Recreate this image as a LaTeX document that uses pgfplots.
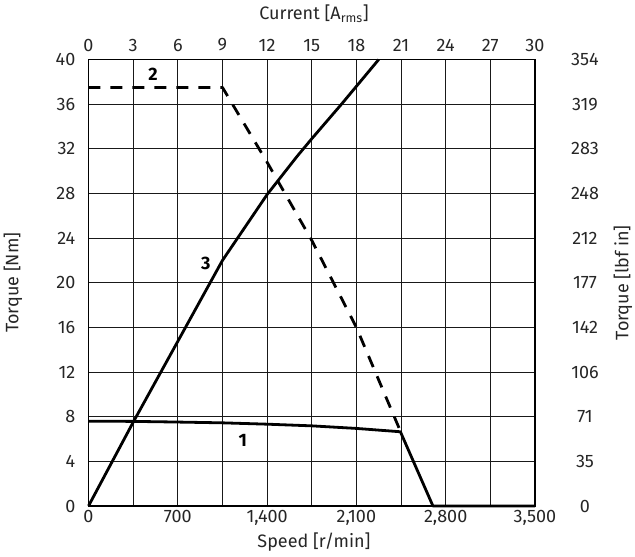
\documentclass[border=0pt]{standalone}
\usepackage{fontspec}
\setmainfont{Fira Sans}
\usepackage{pgfplots}
\pgfplotsset{compat=1.18}

\begin{document}
\fontsize{18}{21}\selectfont
\begin{tikzpicture}
\pgfplotsset{
  motor/.style={
    scale only axis, width=446.5pt, height=446.5pt,
    ymin=0, ymax=40, ytick={0,4,...,40},
    major tick length=0pt, minor tick length=0pt,
    tick label style={font=\fontsize{18}{21}\selectfont, text=black!85, inner sep=0pt},
    label style={font=\fontsize{18}{21}\selectfont, text=black!85},
    /pgf/number format/assume math mode=true,
    axis line style={line width=1.3pt},
    clip=false,
  },
  curve/.style={black, line width=2.8pt, line join=round},
}
\begin{axis}[motor, name=main,
  xmin=0, xmax=3500, xtick={0,700,1400,2100,2800,3500}, minor x tick num=1,
  scaled x ticks=false,
  grid=both,
  major grid style={black!90, line width=0.9pt},
  minor grid style={black!90, line width=0.9pt},
  xticklabel style={anchor=north, yshift=-4pt},
  yticklabel style={anchor=east, xshift=-13pt},
  xlabel={Speed [r/min]},
  xlabel style={at={(axis description cs:0.505,-0.08)}, anchor=center},
  ylabel={Torque [Nm]},
  ylabel style={at={(axis description cs:-0.169,0.5)}, anchor=center},
]
% 1: torque vs speed
\addplot[curve] coordinates {
  (0,7.6) (350,7.58) (700,7.52) (1050,7.45) (1400,7.33) (1750,7.18)
  (2100,6.95) (2445,6.65) (2700,0) (3500,0)
};
% 2: peak torque, dashed
\addplot[curve, dash pattern=on 12pt off 10pt] coordinates {
  (0,37.5) (1050,37.5) (1400,30.8) (1750,23.8) (2100,16.0) (2445,6.7)
};
\node[font=\bfseries\fontsize{18}{21}\selectfont] at (axis cs:1209,5.9) {1};
\node[font=\bfseries\fontsize{18}{21}\selectfont] at (axis cs:505,38.7) {2};
\node[font=\bfseries\fontsize{18}{21}\selectfont] at (axis cs:919,21.75) {3};
\end{axis}

\begin{axis}[motor,
  axis x line*=top, axis y line*=right,
  xmin=0, xmax=30, xtick={0,3,...,30},
  yticklabels={0,35,71,106,142,177,212,248,283,319,354},
  xticklabel style={anchor=south, yshift=8pt},
  yticklabel style={anchor=center, xshift=50pt},
  xlabel={Current [A\textsubscript{rms}]},
  xlabel style={at={(axis description cs:0.505,1.102)}, anchor=center},
  ylabel={Torque [lbf in]},
  ylabel style={at={(axis description cs:1.197,0.5)}, anchor=center},
]
% 3: torque vs current
\addplot[curve] coordinates {
  (0,0) (3,7.5) (6,14.75) (9,22.0) (12,27.9) (14,31.3) (15,32.9)
  (16,34.45) (17,36.0) (18,37.6) (19.5,40)
};
\end{axis}
\pgfresetboundingbox
\path[use as bounding box] ([xshift=-88.5pt,yshift=-51pt]main.south west)
  rectangle ([xshift=100pt,yshift=59.5pt]main.north east);
\end{tikzpicture}
\end{document}
